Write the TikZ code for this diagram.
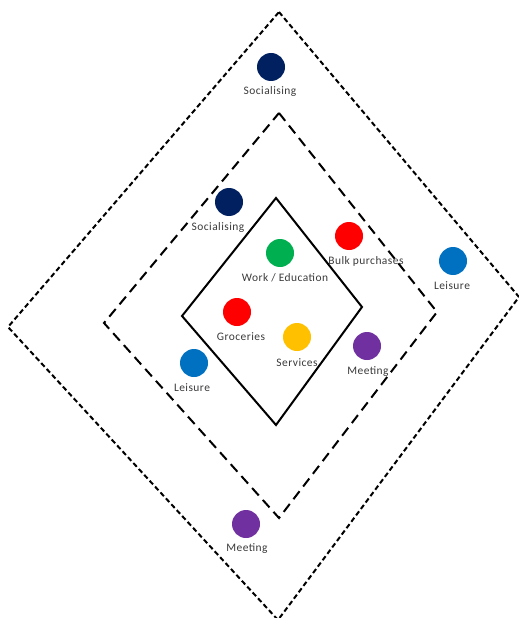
\documentclass[tikz,border=0pt]{standalone}
\usepackage{fontspec}
\setmainfont{Carlito}[LetterSpace=4]
\definecolor{navy}{HTML}{002060}
\definecolor{cgreen}{HTML}{00B050}
\definecolor{cred}{HTML}{FF0000}
\definecolor{cblue}{HTML}{0070C0}
\definecolor{cyellow}{HTML}{FFC000}
\definecolor{cpurple}{HTML}{7030A0}
\definecolor{labelgray}{HTML}{3A3A3A}
\begin{document}
\begin{tikzpicture}[x=1bp,y=-1bp,
  dot/.style={circle,minimum size=28bp,inner sep=0pt,fill=#1},
  lbl/.style={font=\fontsize{11.5}{13}\selectfont,text=labelgray,inner sep=0pt},
  outerline/.style={line width=2bp,dash pattern=on 5bp off 3bp},
  midline/.style={line width=2bp,dash pattern=on 10bp off 6bp},
  innerline/.style={line width=2bp,line join=miter}]
\useasboundingbox (0,0) rectangle (519,618);
\clip (0,0) rectangle (519,618);
% diamonds
\coordinate (oT) at (279,12);
\coordinate (oR) at (519,297);
\coordinate (oB) at (278,620);
\coordinate (oL) at (8,327);
\draw[outerline] (oT) -- (oR) -- (oB) -- (oL) -- cycle;
\coordinate (mT) at (279,113);
\coordinate (mR) at (437,312);
\coordinate (mB) at (279,518);
\coordinate (mL) at (104,323);
\draw[midline] (mT) -- (mR) -- (mB) -- (mL) -- cycle;
\coordinate (iT) at (276,198);
\coordinate (iR) at (362,307);
\coordinate (iB) at (276,425);
\coordinate (iL) at (182,316);
\draw[innerline] (iT) -- (iR) -- (iB) -- (iL) -- cycle;
% dots
\node[dot=navy] (soc1) at (271,67) {};
\node[lbl] (soc1l) at (270,92) {Socialising};
\node[dot=navy] (soc2) at (229,202) {};
\node[lbl] (soc2l) at (218,228) {Socialising};
\node[dot=cgreen] (work) at (280,253) {};
\node[lbl] (workl) at (285,278) {Work / Education};
\node[dot=cred] (bulk) at (349,236) {};
\node[lbl] (bulkl) at (366,261) {Bulk purchases};
\node[dot=cblue] (leis1) at (453,261) {};
\node[lbl] (leis1l) at (452,286) {Leisure};
\node[dot=cred] (groc) at (237,312) {};
\node[lbl] (grocl) at (241,337) {Groceries};
\node[dot=cyellow] (serv) at (297,337) {};
\node[lbl] (servl) at (297,363) {Services};
\node[dot=cpurple] (meet1) at (367,346) {};
\node[lbl] (meet1l) at (368,372) {Meeting};
\node[dot=cblue] (leis2) at (194,363) {};
\node[lbl] (leis2l) at (192,388) {Leisure};
\node[dot=cpurple] (meet2) at (246,524) {};
\node[lbl] (meet2l) at (247,549) {Meeting};
\end{tikzpicture}
\end{document}
